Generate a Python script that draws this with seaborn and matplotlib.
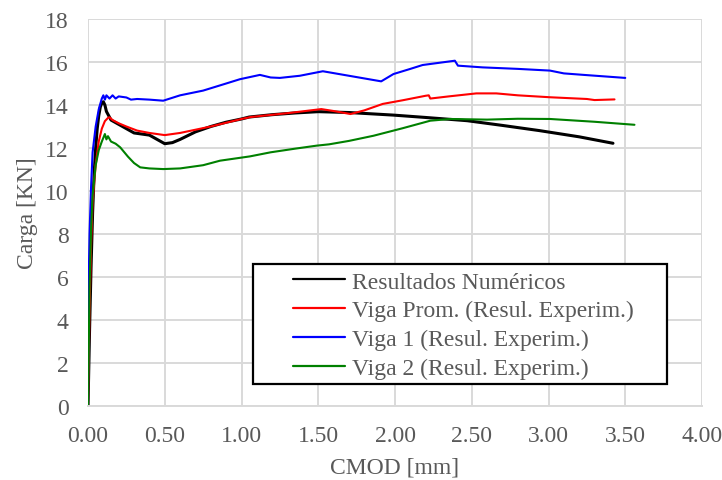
import matplotlib
matplotlib.use("Agg")
import matplotlib.pyplot as plt
from matplotlib.patches import Rectangle
from matplotlib.lines import Line2D
from matplotlib.ticker import FuncFormatter
import pandas as pd
import seaborn as sns

# ---- data ----
num_x = [0.0, 0.01, 0.02, 0.03, 0.04, 0.05, 0.06, 0.07, 0.08, 0.09, 0.10, 0.11, 0.12, 0.15, 0.20, 0.25,
         0.30, 0.35, 0.40, 0.45, 0.50, 0.55, 0.60, 0.70, 0.80, 0.90, 1.00, 1.05, 1.20, 1.35, 1.50,
         1.70, 1.99, 2.20, 2.47, 2.70, 2.94, 3.20, 3.42]
num_y = [0.0, 3.5, 6.5, 9.0, 10.8, 12.0, 12.9, 13.5, 13.9, 14.1, 14.15, 14.0, 13.7, 13.3, 13.1, 12.9,
         12.7, 12.65, 12.6, 12.4, 12.2, 12.25, 12.4, 12.75, 13.0, 13.2, 13.35, 13.44, 13.55, 13.63, 13.69,
         13.65, 13.53, 13.42, 13.27, 13.05, 12.81, 12.52, 12.22]

prom_x = [0.0, 0.01, 0.02, 0.03, 0.05, 0.07, 0.09, 0.11, 0.13, 0.14, 0.16, 0.20, 0.25, 0.32, 0.40, 0.50,
          0.60, 0.80, 1.00, 1.06, 1.30, 1.52, 1.60, 1.71, 1.80, 1.92, 2.05, 2.20, 2.22, 2.23, 2.35, 2.53,
          2.66, 2.80, 3.01, 3.25, 3.30, 3.43]
prom_y = [0.0, 4.5, 7.5, 9.5, 11.2, 12.3, 12.9, 13.25, 13.4, 13.43, 13.3, 13.15, 13.0, 12.81, 12.7, 12.6,
          12.7, 13.0, 13.35, 13.44, 13.62, 13.81, 13.72, 13.58, 13.75, 14.05, 14.22, 14.43, 14.45, 14.3, 14.4, 14.54,
          14.54, 14.45, 14.36, 14.28, 14.23, 14.26]

v1_x = [0.0, 0.003, 0.01, 0.02, 0.03, 0.05, 0.07, 0.09, 0.10, 0.11, 0.12, 0.14, 0.16, 0.18, 0.20, 0.25,
        0.28, 0.32, 0.40, 0.49, 0.60, 0.75, 0.90, 0.99, 1.12, 1.19, 1.25, 1.38, 1.53, 1.91, 1.99,
        2.10, 2.18, 2.39, 2.41, 2.57, 2.80, 3.01, 3.10, 3.23, 3.50]
v1_y = [0.0, 5.2, 8.0, 10.2, 11.8, 13.0, 13.8, 14.3, 14.45, 14.25, 14.45, 14.3, 14.45, 14.3, 14.4, 14.35,
        14.25, 14.28, 14.25, 14.2, 14.45, 14.67, 15.0, 15.2, 15.4, 15.28, 15.26, 15.36, 15.57, 15.1, 15.44,
        15.68, 15.86, 16.06, 15.83, 15.75, 15.68, 15.6, 15.47, 15.4, 15.26]

v2_x = [0.0, 0.002, 0.01, 0.02, 0.03, 0.05, 0.07, 0.09, 0.11, 0.12, 0.13, 0.15, 0.18, 0.21, 0.26, 0.30,
        0.34, 0.40, 0.49, 0.60, 0.75, 0.86, 1.055, 1.19, 1.35, 1.49, 1.57, 1.70, 1.86, 2.05, 2.23, 2.36,
        2.60, 2.80, 3.01, 3.30, 3.56]
v2_y = [0.0, 1.3, 5.5, 8.2, 9.8, 11.2, 11.9, 12.3, 12.65, 12.4, 12.55, 12.3, 12.2, 12.03, 11.6, 11.3,
        11.1, 11.05, 11.02, 11.05, 11.2, 11.41, 11.61, 11.8, 11.97, 12.11, 12.17, 12.33, 12.57, 12.92, 13.27, 13.35,
        13.32, 13.36, 13.35, 13.22, 13.08]

series_names = ["Resultados Numéricos", "Viga Prom. (Resul. Experim.)",
                "Viga 1 (Resul. Experim.)", "Viga 2 (Resul. Experim.)"]
series_colors = ["#000000", "#ff0000", "#0000ff", "#008000"]

frames = []
for name, xs, ys in zip(series_names, [num_x, prom_x, v1_x, v2_x], [num_y, prom_y, v1_y, v2_y]):
    frames.append(pd.DataFrame({"CMOD": xs, "Carga": ys, "serie": name}))
df = pd.concat(frames, ignore_index=True)

x_ticks = [0.0, 0.5, 1.0, 1.5, 2.0, 2.5, 3.0, 3.5, 4.0]
y_ticks = list(range(0, 19, 2))

# ---- style ----
sns.set_theme(style="white")
plt.rcParams["font.family"] = ["Liberation Serif", "DejaVu Serif"]
text_color = "#595959"
grid_color = "#d9d9d9"

fig = plt.figure(figsize=(7.22, 4.81), dpi=100)
ax = fig.add_axes([88 / 722, 1 - 407 / 481, 614 / 722, 387 / 481])

sns.lineplot(data=df, x="CMOD", y="Carga", hue="serie", hue_order=series_names,
             palette=series_colors, sort=False, estimator=None, units="serie",
             linewidth=1.6, ax=ax, legend=False)
for line, lw in zip(ax.get_lines(), [2.2, 1.5, 1.5, 1.5]):
    line.set_linewidth(lw)

ax.set_xlim(0, 4.0)
ax.set_ylim(0, 18)
ax.set_xticks(x_ticks)
ax.set_yticks(y_ticks)
ax.xaxis.set_major_formatter(FuncFormatter(lambda v, p: f"{v:.2f}"))
ax.grid(True, color=grid_color, linewidth=1.4, zorder=0)
ax.set_axisbelow(True)
for side in ["top", "right", "left"]:
    ax.spines[side].set_visible(False)
ax.spines["bottom"].set_color(grid_color)
ax.spines["bottom"].set_linewidth(1.4)
ax.tick_params(axis="both", length=0, labelsize=17, colors=text_color)
ax.tick_params(axis="x", pad=14)
ax.tick_params(axis="y", pad=14)
ax.set_xlabel("CMOD [mm]", fontsize=17, color=text_color, labelpad=7)
ax.set_ylabel("Carga [KN]", fontsize=17, color=text_color, labelpad=5)

# legend frame
ax.add_patch(Rectangle((165 / 614, 22 / 387), 414 / 614, 120 / 387, transform=ax.transAxes,
                       facecolor="white", edgecolor="black", linewidth=1.6, zorder=4))
handles = [Line2D([0], [0], color=c, linewidth=1.6) for c in series_colors]
leg = ax.legend(handles, series_names, loc="upper left",
                bbox_to_anchor=(205 / 614, (407 - 272) / 387), frameon=False,
                fontsize=17, handlelength=2.2, handletextpad=0.3, labelspacing=0.31,
                borderpad=0, borderaxespad=0)
for t in leg.get_texts():
    t.set_color(text_color)
leg.set_zorder(6)

fig.savefig("out.png", dpi=100)
